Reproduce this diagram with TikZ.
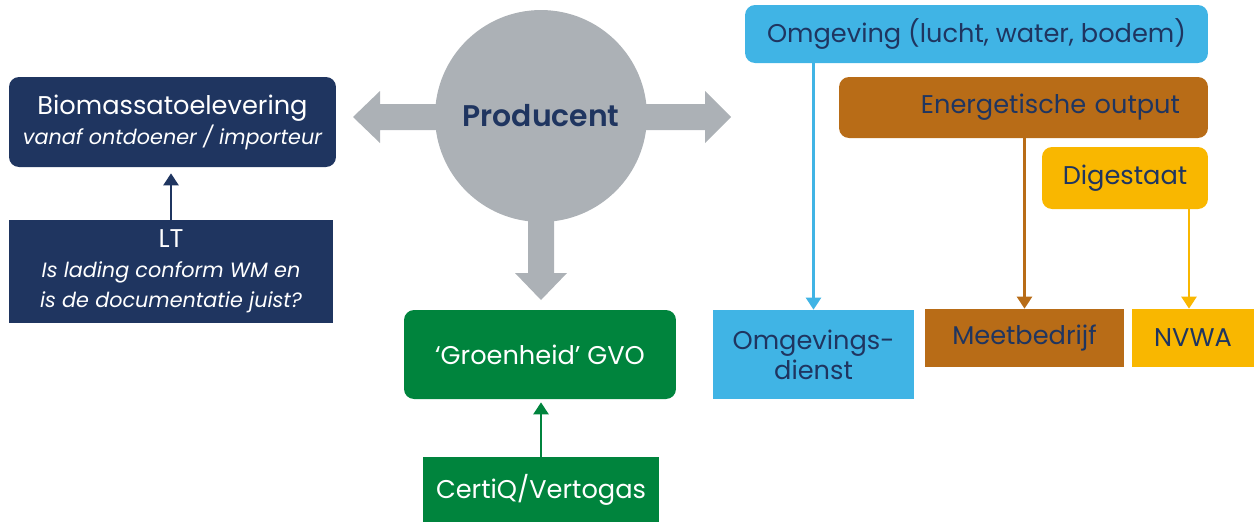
\documentclass[tikz,border=0pt]{standalone}
\usepackage{fontspec}
\setmainfont{Poppins}
\newfontfamily\prodfont{Poppins SemiBold}
\usetikzlibrary{arrows.meta}
\definecolor{navy}{RGB}{31,53,96}
\definecolor{skyblue}{RGB}{64,180,229}
\definecolor{rust}{RGB}{184,108,23}
\definecolor{amber}{RGB}{249,183,0}
\definecolor{leaf}{RGB}{0,132,61}
\definecolor{steel}{RGB}{172,177,182}
\newcommand\subfont{\itshape\fontsize{11.8}{17}\selectfont}
\begin{document}
\begin{tikzpicture}[x=0.02cm,y=-0.02cm,>={Triangle[width=0.3cm,length=0.24cm]},
        box/.style={inner sep=0pt,align=center,font=\fontsize{14.6}{17}\selectfont},
        rbox/.style={box,rounded corners=0.2cm},
        link/.style={line width=1.4pt,->}]
    \useasboundingbox (0,0) rectangle (1254,522);
    % grey arrows behind the producer
    \fill[steel] (440,104) -- (380,104) -- (380,91) -- (353,117) -- (380,143) -- (380,130) -- (440,130) -- cycle;
    \fill[steel] (640,104) -- (705,104) -- (705,91) -- (731,117) -- (705,143) -- (705,130) -- (640,130) -- cycle;
    \fill[steel] (528,200) -- (528,273) -- (515,273) -- (541,300) -- (567,273) -- (554,273) -- (554,200) -- cycle;
    \node[circle,fill=steel,minimum size=4.24cm,inner sep=0pt,text=navy,font=\prodfont\fontsize{17}{20}\selectfont] (prod) at (541,116) {Producent};
    % left side
    \node[rbox,fill=navy,text=white,minimum width=6.54cm,minimum height=1.8cm] (bio) at (172.5,122)
        {Biomassatoelevering\\{\subfont vanaf ontdoener / importeur}};
    \node[box,fill=navy,text=white,minimum width=6.48cm,minimum height=2.06cm] (lt) at (171,271.5)
        {LT\\{\subfont Is lading conform WM en}\\{\subfont is de documentatie juist?}};
    \draw[link,navy,shorten >=0.12cm] (lt.north) -- (lt.north |- bio.south);
    % bottom
    \node[rbox,fill=leaf,text=white,minimum width=5.44cm,minimum height=1.78cm] (gvo) at (540,354.5) {‘Groenheid’ GVO};
    \node[box,fill=leaf,text=white,minimum width=4.72cm,minimum height=1.3cm] (certiq) at (541,489.5) {CertiQ/Vertogas};
    \draw[link,leaf,shorten >=0.06cm] (certiq.north) -- (certiq.north |- gvo.south);
    % right side
    \node[rbox,fill=skyblue,text=navy,minimum width=9.26cm,minimum height=1.16cm] (omg) at (976.5,34) {Omgeving (lucht, water, bodem)};
    \node[rbox,fill=rust,text=navy,minimum width=7.38cm,minimum height=1.22cm,text width=6.26cm,align=right] (energ) at (1023.5,107.5) {Energetische output};
    \node[rbox,fill=amber,text=navy,minimum width=3.32cm,minimum height=1.24cm] (dig) at (1125,178) {Digestaat};
    \node[box,fill=skyblue,text=navy,minimum width=4.02cm,minimum height=1.78cm] (od) at (813.5,354.5) {Omgevings-\\dienst};
    \node[box,fill=rust,text=navy,minimum width=3.98cm,minimum height=1.16cm] (meet) at (1024.5,338) {Meetbedrijf};
    \node[box,fill=amber,text=navy,minimum width=2.44cm,minimum height=1.16cm] (nvwa) at (1193,338) {NVWA};
    \draw[link,skyblue] (od.north |- omg.south) -- (od.north);
    \draw[link,rust] (meet.north |- energ.south) -- (meet.north);
    \draw[link,amber] ([xshift=-0.08cm]nvwa.north |- dig.south) -- ([xshift=-0.08cm]nvwa.north);
\end{tikzpicture}
\end{document}
